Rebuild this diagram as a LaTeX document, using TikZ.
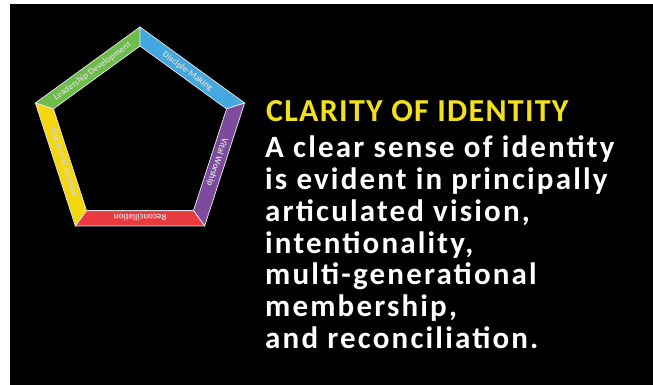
\documentclass[tikz,border=0pt]{standalone}
\usepackage{fontspec}
\setmainfont{Carlito}
\newfontfamily\spacedbody[LetterSpace=7]{Carlito}
\newfontfamily\spacedtitle[LetterSpace=4]{Carlito}
\usetikzlibrary{calc,positioning}

\definecolor{segGreen}{HTML}{6CBD4A}
\definecolor{segBlue}{HTML}{42A8DF}
\definecolor{segPurple}{HTML}{7D4B9E}
\definecolor{segRed}{HTML}{E83A3F}
\definecolor{segYellow}{HTML}{F6D70E}
\definecolor{segEdge}{HTML}{DCDCDC}
\definecolor{labelGrey}{HTML}{D4D4D4}
\definecolor{titleYellow}{HTML}{F2E01C}

\begin{document}
\begin{tikzpicture}[x=1pt,y=1pt,
  seg/.style={draw=segEdge, line width=0.8pt, line join=miter},
  seglabel/.style={text=labelGrey, font=\bfseries\fontsize{9}{9}\selectfont, inner sep=0pt},
  titleline/.style={anchor=base west, text=titleYellow, inner sep=0pt,
    font=\spacedtitle\bfseries\fontsize{32}{32}\selectfont},
  bodyline/.style={anchor=base west, text=white, inner sep=0pt,
    font=\spacedbody\bfseries\fontsize{31}{31}\selectfont}]
\useasboundingbox (0,0) rectangle (653,385);
\fill[white] (0,0) rectangle (653,385);
\fill[black] (10,0) rectangle (653,381);

% pentagon
\coordinate (c) at (140,248);
\foreach \a/\b/\col/\txt [count=\i] in {162/90/segGreen/Leadership Development,
    90/18/segBlue/Disciple-Making, 18/-54/segPurple/Vital Worship,
    -54/-126/segRed/Reconciliation, -126/-198/segYellow/Mission and Justice}{
  \filldraw[seg, fill=\col] ($(c)+(\a:110)$) -- ($(c)+(\b:110)$)
    -- ($(c)+(\b:91)$) -- ($(c)+(\a:91)$) -- cycle;
  \pgfmathsetmacro\m{(\a+\b)/2}
  \node[seglabel, rotate=\m-90] (lab\i) at ($(c)+(\m:81)$) {\txt};
}

% text
\node[titleline] (title) at (266,263) {CLARITY OF IDENTITY};
\foreach \ln [count=\i] in {A clear sense of identity, is evident in principally,
    {articulated vision,}, {intentionality,}, multi-generational, {membership,},
    and reconciliation.}{
  \node[bodyline] (line\i) at (265,{227-31.7*(\i-1)}) {\ln};
}
\end{tikzpicture}
\end{document}
